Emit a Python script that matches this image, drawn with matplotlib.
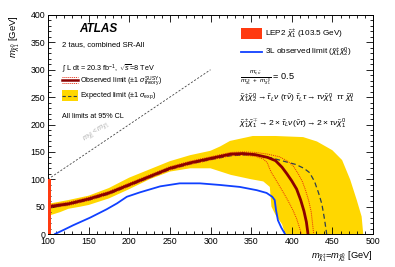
import matplotlib
matplotlib.use("Agg")
import matplotlib.pyplot as plt
from matplotlib.patches import Polygon, Rectangle
from matplotlib.lines import Line2D
from matplotlib.ticker import MultipleLocator

plt.rcParams['font.family'] = ['Liberation Sans', 'DejaVu Sans']
plt.rcParams['mathtext.fontset'] = 'custom'
plt.rcParams['mathtext.rm'] = 'Liberation Sans'
plt.rcParams['mathtext.it'] = 'Liberation Sans:italic'
plt.rcParams['mathtext.bf'] = 'Liberation Sans:bold'

# ---- data ----
obs_x = [100,125,150,175,200,225,250,275,300,325,340,355,370,380,388,394,400,406,411,415,418,420]
obs_y = [50,55,64,75,90,105,120,130,138,146,147,145,140,134,122,110,97,82,62,42,22,0]

obs_up_x = [100,125,150,175,200,225,250,275,300,325,340,355,370,385,395,402,408,413,417,421,424,427]
obs_up_y = [53,58,67,78,93,108,123,133,141,149,150,149,146,141,133,124,110,96,80,60,40,0]

obs_dn_x = [100,125,150,175,200,225,250,275,300,325,340,355,365,370,372,375,380,388,395,401,406,412]
obs_dn_y = [47,52,61,72,87,102,117,127,135,143,144,142,137,130,122,112,100,80,62,45,28,0]

exp_x = [100,125,150,175,200,225,250,275,300,325,350,375,390,405,415,422,428,433,437,440,443]
exp_y = [47,54,62,73,88,103,118,128,136,143,145,139,133,127,120,112,96,75,55,30,0]

band_up_x = [100,125,150,175,200,225,250,275,300,312,324,352,380,414,431,450,462,472,480,486,488]
band_up_y = [55,62,70,84,103,118,133,144,152,160,170,179,179,177,169,153,135,99,62,32,0]
band_lo_x = [100,115,125,140,150,175,200,225,250,275,300,325,350,365,373,375,380,388,392]
band_lo_y = [33,40,46,50,53,65,82,100,114,120,120,108,100,96,86,50,35,18,0]

blue_x = [108.6,120,131,152,172,185,197,213,238,262,287,312,336,357,369,376,379,380.6,383,387,391.7]
blue_y = [0,8,16,30,45,56,68,76,87,92.5,92.5,89.5,86,80,75,68,62,44,25,12,0]

lep_x = [100, 103.5]
lep_y = [0, 100]

diag_x = [100, 300]

xticks = [100,150,200,250,300,350,400,450,500]
yticks = [0,50,100,150,200,250,300,350,400]

# ---- colours ----
c_band = '#FFD700'
c_obs = '#8B0000'
c_dot = '#E8290B'
c_exp = '#2F3F4F'
c_blue = '#1040FF'
c_lep = '#FF3A10'

W, H = 395, 267
fig = plt.figure(figsize=(W/100, H/100), dpi=100)
ax = fig.add_axes([48/W, 1-234/H, 325/W, 219/H])

def fx(px):
    return px / W
def fy(py):
    return 1 - py / H

band = list(zip(band_up_x, band_up_y)) + list(zip(band_lo_x[::-1], band_lo_y[::-1]))
ax.add_patch(Polygon(band, closed=True, facecolor=c_band, edgecolor='none', zorder=1))

ax.plot(blue_x, blue_y, color=c_blue, lw=1.3, zorder=3)
ax.plot(exp_x, exp_y, color=c_exp, lw=0.9, ls=(0, (4, 2.5)), zorder=4)
ax.plot(obs_up_x, obs_up_y, color=c_dot, lw=0.7, ls=(0, (1, 1)), zorder=4)
ax.plot(obs_dn_x, obs_dn_y, color=c_dot, lw=0.7, ls=(0, (1, 1)), zorder=4)
ax.plot(obs_x, obs_y, color=c_obs, lw=2.0, zorder=5)

ax.add_patch(Rectangle((lep_x[0], lep_y[0]), lep_x[1]-lep_x[0], lep_y[1]-lep_y[0],
                       facecolor=c_lep, edgecolor='none', zorder=6))

ax.plot(diag_x, diag_x, color='#444444', lw=0.6, ls=(0, (2.5, 2)), zorder=2)
ax.text(160, 186, r'$m_{\tilde{\chi}_1^0} < m_{\tilde{\chi}_1^{\pm}}$', fontsize=5.2,
        color='#AAAAAA', rotation=34, ha='center', va='center', rotation_mode='anchor')

ax.set_xlim(100, 500)
ax.set_ylim(0, 400)
ax.set_xticks(xticks)
ax.set_yticks(yticks)
ax.xaxis.set_minor_locator(MultipleLocator(10))
ax.yaxis.set_minor_locator(MultipleLocator(10))
ax.tick_params(which='both', direction='in', top=True, right=True, labelsize=6.3, pad=2, width=0.6)
ax.tick_params(axis='x', which='major', pad=2.5)
ax.tick_params(which='major', length=5)
ax.tick_params(which='minor', length=2.5)
for s in ax.spines.values():
    s.set_linewidth(0.7)

ax.set_xlabel(r'$m_{\tilde{\chi}_1^{\pm}}$=$m_{\tilde{\chi}_2^0}$ [GeV]', fontsize=6.7, loc='right', labelpad=2)
ax.set_ylabel(r'$m_{\tilde{\chi}_1^0}$ [GeV]', fontsize=6.8, loc='top', labelpad=6)

# ---- left legend / labels ----
fig.text(fx(79), fy(29), 'ATLAS', fontsize=8.5, fontweight='bold', fontstyle='italic', va='center')
fig.text(fx(62), fy(44.5), '2 taus, combined SR-All', fontsize=5.5, va='center')
fig.text(fx(62), fy(68.5), r'$\int$ L dt = 20.3 fb$^{-1}$, $\sqrt{s}$=8 TeV', fontsize=5.2, va='center')

fig.add_artist(Line2D([fx(62), fx(78)], [fy(77.5), fy(77.5)], color=c_dot, lw=0.7, ls=(0, (1, 1))))
fig.add_artist(Line2D([fx(62), fx(78)], [fy(82.5), fy(82.5)], color=c_dot, lw=0.7, ls=(0, (1, 1))))
fig.add_artist(Line2D([fx(62), fx(78)], [fy(80), fy(80)], color=c_obs, lw=1.8))
fig.text(fx(80), fy(81), r'Observed limit ($\pm1\ \sigma^{\rm SUSY}_{\rm theory}$)', fontsize=5.1, va='center')

fig.add_artist(Rectangle((fx(62), fy(101)), fx(16), 11/H, facecolor=c_band, edgecolor='none'))
fig.add_artist(Line2D([fx(62), fx(78)], [fy(95.5), fy(95.5)], color=c_exp, lw=0.8, ls=(0, (3, 2))))
fig.text(fx(80), fy(96), r'Expected limit ($\pm1\ \sigma_{\rm exp}$)', fontsize=5.2, va='center')

fig.text(fx(62), fy(117), 'All limits at 95% CL', fontsize=5.1, va='center')

# ---- right legend ----
fig.add_artist(Rectangle((fx(241), fy(39)), fx(21), 11/H, facecolor=c_lep, edgecolor='none'))
fig.text(fx(265), fy(34), r'LEP2 $\tilde{\chi}_1^{\pm}$ (103.5 GeV)', fontsize=5.9, va='center')
fig.add_artist(Line2D([fx(241), fx(262)], [fy(52), fy(52)], color=c_blue, lw=1.3))
fig.text(fx(265), fy(52), r'3L observed limit ($\tilde{\chi}_1^{\pm}\tilde{\chi}_2^0$)', fontsize=5.9, va='center')

fig.text(fx(240), fy(78), r'$\frac{m_{\tilde{\tau},\tilde{\nu}}}{m_{\tilde{\chi}_1^{\pm}}\ +\ m_{\tilde{\chi}_1^0}}$ = 0.5',
         fontsize=6.6, va='center')
fig.text(fx(239), fy(98),
         r'$\tilde{\chi}_1^{\pm}\tilde{\chi}_2^0 \rightarrow \tilde{\tau}_L\nu\ (\tau\tilde{\nu})\ \tilde{\tau}_L\tau \rightarrow \tau\nu\tilde{\chi}_1^0\ \ \tau\tau\ \tilde{\chi}_1^0$',
         fontsize=6.0, va='center')
fig.text(fx(239), fy(123),
         r'$\tilde{\chi}_1^{\pm}\tilde{\chi}_1^{\mp} \rightarrow 2\times\tilde{\tau}_L\nu(\tilde{\nu}\tau) \rightarrow 2\times\tau\nu\tilde{\chi}_1^0$',
         fontsize=6.1, va='center')

fig.savefig('out.png', dpi=100)
